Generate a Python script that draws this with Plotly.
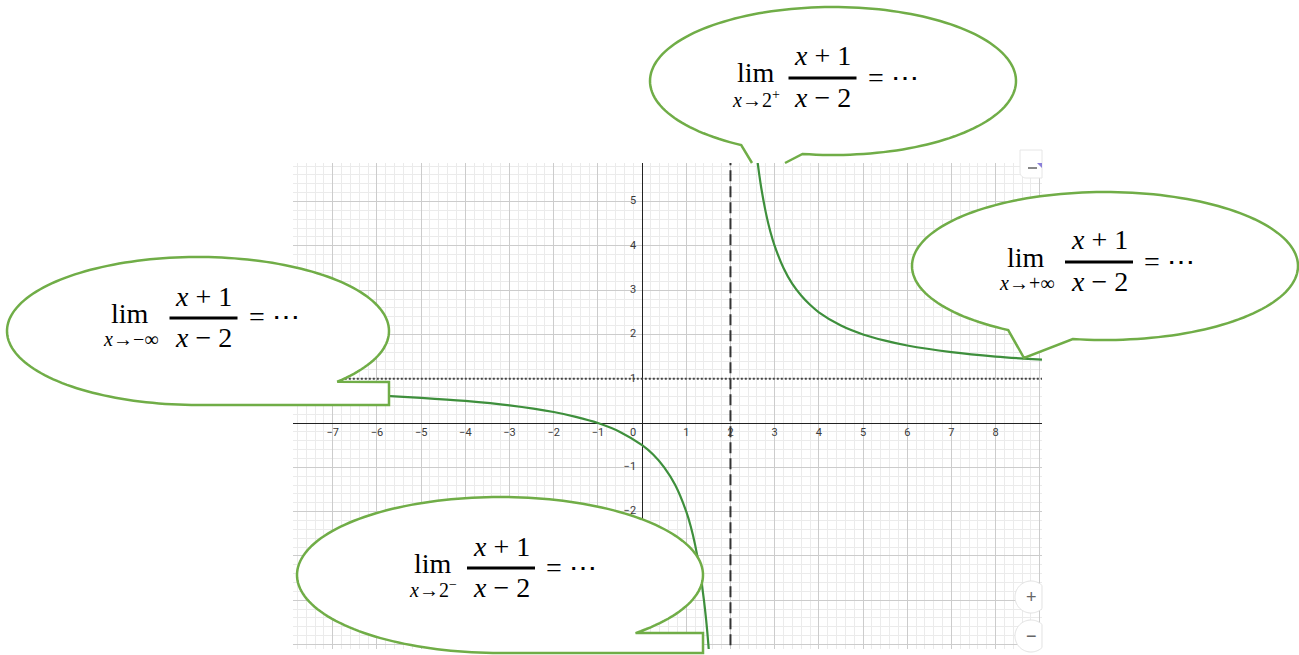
import numpy as np
import plotly.graph_objects as go

# ---- data: y = (x + 1) / (x - 2), points read along each branch ----
left_x = [-7.9, -7, -6, -5, -4, -3, -2, -1.5, -1, -0.5, 0, 0.25, 0.5, 0.75, 1, 1.1, 1.2, 1.3, 1.4, 1.45, 1.5, 1.55]
left_y = [0.70, 0.67, 0.625, 0.57, 0.5, 0.4, 0.25, 0.14, 0, -0.2, -0.5, -0.71, -1.0, -1.4, -2.0, -2.33,
          -2.75, -3.29, -4.0, -4.45, -5.0, -5.67]
right_x = [2.6, 2.65, 2.7, 2.8, 2.9, 3.0, 3.2, 3.4, 3.6, 3.8, 4.0, 4.5, 5, 5.5, 6, 7, 8, 9.05]
right_y = [6.0, 5.62, 5.29, 4.75, 4.33, 4.0, 3.5, 3.14, 2.88, 2.67, 2.5, 2.2, 2.0, 1.86, 1.75, 1.6, 1.5, 1.43]

vertical_asymptote = 2
horizontal_asymptote = 1

x_tick_values = [-7, -6, -5, -4, -3, -2, -1, 1, 2, 3, 4, 5, 6, 7, 8]
x_tick_labels = ["−7", "−6", "−5", "−4", "−3", "−2", "−1", "1", "2", "3", "4", "5", "6", "7", "8"]
y_tick_values = [-5, -4, -3, -2, -1, 1, 2, 3, 4, 5]
y_tick_labels = ["−5", "−4", "−3", "−2", "−1", "1", "2", "3", "4", "5"]

limit_targets = ["2<sup>+</sup>", "−∞", "+∞", "2<sup>−</sup>"]

# ---- page geometry (pixels) ----
W, H = 1299, 655
PLOT_L, PLOT_R, PLOT_T, PLOT_B = 293, 1042, 163, 649
X_RANGE = [-7.9, 9.05]
Y_RANGE = [-5.1, 5.87]
Y_UNIT = (PLOT_B - PLOT_T) / (Y_RANGE[1] - Y_RANGE[0])
X_UNIT = (PLOT_R - PLOT_L) / (X_RANGE[1] - X_RANGE[0])

CURVE = "#3e8f3c"
BUBBLE = "#70ad47"
TICK_FONT = dict(family="Roboto, Liberation Sans, sans-serif", size=11, color="#3a3a3a")
MATH_FONT = "Liberation Serif, DejaVu Serif, serif"


def px(x):
    return x / W


def py(y):
    return 1 - y / H


def path_from(points, close=True):
    s = "M " + " L ".join(f"{px(x):.5f},{py(y):.5f}" for x, y in points)
    return s + (" Z" if close else "")


def arc(cx, cy, rx, ry, t0, t1, n=160):
    t = np.radians(np.linspace(t0, t1, n))
    return list(zip(cx + rx * np.cos(t), cy + ry * np.sin(t)))


fig = go.Figure()

# asymptotes, drawn across the whole visible range
fig.add_trace(go.Scatter(x=[vertical_asymptote] * 2, y=[Y_RANGE[0] - 1, Y_RANGE[1] + 1], mode="lines",
                         line=dict(color="#333333", width=2, dash="11px,5px"), hoverinfo="skip"))
fig.add_trace(go.Scatter(x=[X_RANGE[0] - 1, X_RANGE[1] + 1], y=[horizontal_asymptote] * 2, mode="lines",
                         line=dict(color="#444444", width=2, dash="2px,2px"), hoverinfo="skip"))

# the two branches of the curve
for bx, by in ((left_x, left_y), (right_x, right_y)):
    fig.add_trace(go.Scatter(x=bx, y=by, mode="lines",
                             line=dict(color=CURVE, width=2.2, shape="spline", smoothing=1),
                             hoverinfo="skip"))

# axis numbers sitting next to the axes
fig.add_trace(go.Scatter(x=x_tick_values, y=[-10 / Y_UNIT] * len(x_tick_values), mode="text",
                         text=x_tick_labels, textposition="middle center", textfont=TICK_FONT,
                         hoverinfo="skip", cliponaxis=False))
fig.add_trace(go.Scatter(x=[-6 / X_UNIT] * len(y_tick_values), y=y_tick_values, mode="text",
                         text=y_tick_labels, textposition="middle left", textfont=TICK_FONT,
                         hoverinfo="skip", cliponaxis=False))
fig.add_trace(go.Scatter(x=[-9 / X_UNIT], y=[-10 / Y_UNIT], mode="text", text=["0"],
                         textposition="middle center", textfont=TICK_FONT, hoverinfo="skip"))

fig.update_xaxes(domain=[px(PLOT_L), px(PLOT_R)], range=X_RANGE, dtick=1, tick0=0,
                 showgrid=True, gridcolor="#cccccc", gridwidth=1,
                 minor=dict(dtick=0.2, showgrid=True, gridcolor="#ebebeb", gridwidth=1),
                 zeroline=True, zerolinecolor="#222222", zerolinewidth=1,
                 showticklabels=False, ticks="", showline=False, fixedrange=True)
fig.update_yaxes(domain=[py(PLOT_B), py(PLOT_T)], range=Y_RANGE, dtick=1, tick0=0,
                 showgrid=True, gridcolor="#cccccc", gridwidth=1,
                 minor=dict(dtick=0.2, showgrid=True, gridcolor="#ebebeb", gridwidth=1),
                 zeroline=True, zerolinecolor="#222222", zerolinewidth=1,
                 showticklabels=False, ticks="", showline=False, fixedrange=True)

shapes = []
bubble_line = dict(color=BUBBLE, width=2.5)

# top bubble: its pointer runs under the top edge of the grid
top_pts = [(785, 163)] + arc(833, 81, 183, 74, 99.6, -239.9) + [(752, 163)]
shapes.append(dict(type="path", xref="paper", yref="paper", path=path_from(top_pts),
                   fillcolor="white", line=dict(width=0), layer="above"))
shapes.append(dict(type="path", xref="paper", yref="paper", path=path_from(top_pts, close=False),
                   fillcolor="rgba(0,0,0,0)", line=bubble_line, layer="above"))

# right bubble pointing at the curve
right_pts = arc(1105, 266, 193, 74, 99.6, -239.9) + [(1024, 358)]
shapes.append(dict(type="path", xref="paper", yref="paper", path=path_from(right_pts),
                   fillcolor="white", line=bubble_line, layer="above"))

# left bubble with a box-shaped pointer
left_pts = arc(198, 331, 191, 74, 90, 403.2) + [(389, 382), (389, 405), (198, 405)]
shapes.append(dict(type="path", xref="paper", yref="paper", path=path_from(left_pts),
                   fillcolor="white", line=bubble_line, layer="above"))

# bottom bubble
bottom_pts = arc(500, 575, 203, 78, 90, 408.1) + [(703, 633), (703, 653), (500, 653)]
shapes.append(dict(type="path", xref="paper", yref="paper", path=path_from(bottom_pts),
                   fillcolor="white", line=bubble_line, layer="above"))

# zoom buttons at the lower right of the grid
for cy in (597, 636):
    pts = arc(1031, cy, 16, 16, 46.6, 313.4, 80)
    shapes.append(dict(type="path", xref="paper", yref="paper", path=path_from(pts),
                       fillcolor="white", line=dict(color="#e2e2e2", width=1), layer="above"))
# settings tab at the top right
tab = [(1042, 150), (1020, 150), (1020, 172)] + arc(1026, 172, 6, 6, 180, 90, 12) + [(1042, 178)]
shapes.append(dict(type="path", xref="paper", yref="paper", path=path_from(tab),
                   fillcolor="white", line=dict(color="#e6e6e6", width=1), layer="above"))
shapes.append(dict(type="line", xref="paper", yref="paper", x0=px(1028), x1=px(1037),
                   y0=py(168), y1=py(168), line=dict(color="#888888", width=2), layer="above"))
shapes.append(dict(type="path", xref="paper", yref="paper",
                   path=path_from([(1037, 163), (1042, 163), (1042, 168)]),
                   fillcolor="#8a7fd8", line=dict(width=0), layer="above"))

annotations = [
    dict(x=px(1031), y=py(597), text="+", font=dict(family="Liberation Sans", size=18, color="#666666")),
    dict(x=px(1031), y=py(636), text="−", font=dict(family="Liberation Sans", size=18, color="#666666")),
]

# limit formulas: (fraction centre x, centre y, offset of "lim")
formula_places = [(822.5, 78, -66.5), (203.5, 318, -73.5), (1099, 262, -73), (501, 568, -68)]
for target, (fx, fy, lim_dx) in zip(limit_targets, formula_places):
    shapes.append(dict(type="line", xref="paper", yref="paper",
                       x0=px(fx - 34), x1=px(fx + 34), y0=py(fy), y1=py(fy),
                       line=dict(color="black", width=3), layer="above"))
    big = dict(family=MATH_FONT, size=28, color="black")
    small = dict(family=MATH_FONT, size=20, color="black")
    annotations += [
        dict(x=px(fx + lim_dx), y=py(fy - 5), text="lim", font=big),
        dict(x=px(fx + lim_dx), y=py(fy + 21), text=f"<i>x</i>→{target}", font=small),
        dict(x=px(fx), y=py(fy - 22), text="<i>x</i> + 1", font=big),
        dict(x=px(fx), y=py(fy + 19), text="<i>x</i> − 2", font=big),
        dict(x=px(fx + 43), y=py(fy - 1), text="= ⋯", font=big, xanchor="left"),
    ]

for a in annotations:
    a.setdefault("xref", "paper")
    a.setdefault("yref", "paper")
    a.setdefault("showarrow", False)
    a.setdefault("xanchor", "center")
    a.setdefault("yanchor", "middle")

fig.update_layout(width=W, height=H, margin=dict(l=0, r=0, t=0, b=0),
                  paper_bgcolor="white", plot_bgcolor="white", showlegend=False,
                  shapes=shapes, annotations=annotations)

fig.write_html("out.html", config={"displayModeBar": False})
